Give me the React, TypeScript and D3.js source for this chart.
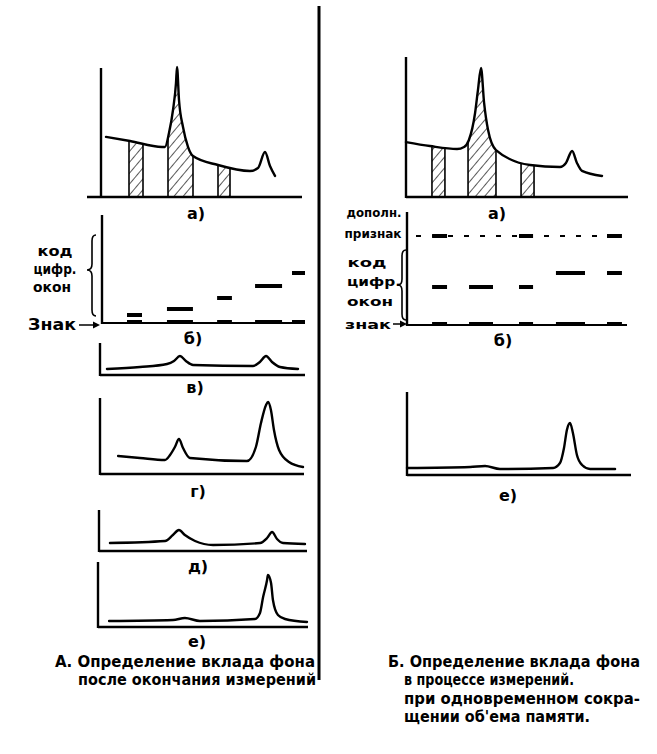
import * as d3 from 'd3';

type Pt = [number, number];

// spectra: [channel (0-100 of panel width), counts]
const specAL: Pt[] = [[2.5, 46.2], [14.5, 43.1], [30.5, 38.5], [32, 38.5], [34, 49.2], [36, 66.9], [37.5, 87.7], [38, 100], [39, 74.6], [41, 53.8], [43.5, 38.5], [46, 31.5], [58.5, 24.6], [74.5, 20], [78.5, 22.3], [82, 34.6], [84.5, 23.8], [87, 16.2]];
const bandsAL: Pt[] = [[14, 21], [33.5, 46], [58.5, 64.5]];

const specAR: Pt[] = [[0, 42.6], [10.9, 39.5], [23.2, 37.2], [26.4, 38.8], [28.6, 44.2], [31.4, 65.1], [32.7, 82.9], [34.1, 100], [35.5, 72.9], [37.3, 51.9], [40.9, 36.4], [56.4, 24.8], [70, 23.3], [72.7, 26.4], [75.5, 35.7], [77.7, 26.4], [80, 20.2], [89.1, 16.3]];
const bandsAR: Pt[] = [[11.8, 17.7], [28.2, 40.9], [52.3, 58.2]];

const specV: Pt[] = [[3.4, 6], [19.5, 8], [32.7, 11], [36.1, 14], [39, 19], [41.9, 14], [45.4, 10], [74.6, 9], [78, 13], [81, 19], [83.9, 13], [87.8, 8], [96.6, 6]];
const specG: Pt[] = [[8.9, 18], [19.7, 16], [32, 14], [34.5, 19], [36.9, 27], [38.9, 35], [40.9, 26], [44.3, 16], [72.4, 13], [76.8, 27], [79.3, 51], [81.8, 69], [82.8, 72], [84.2, 64], [85.7, 44], [88.2, 24], [93.1, 12], [100, 7]];
const specD: Pt[] = [[5.3, 8], [31.9, 10], [35.7, 16], [38.6, 21], [41.5, 16], [46.4, 10], [55.1, 6], [77.8, 8], [81.2, 13], [83.6, 19], [86, 12], [88.9, 8], [99.5, 7]];
const specE: Pt[] = [[5.3, 6], [35.9, 7], [41.6, 9], [48.8, 6], [75.1, 8], [77.5, 14], [79, 30], [80.9, 47], [81.3, 52], [82.8, 44], [83.7, 27], [86.1, 12], [89.5, 8], [100, 5]];
const specER: Pt[] = [[0, 7], [28.3, 8], [35, 9], [41.7, 6], [65.5, 7], [68.6, 12], [70.4, 27], [71.7, 45], [73.1, 52], [74.4, 42], [76.2, 20], [78.5, 10], [82.1, 6], [93.3, 6]];

// б) code panels: channel windows and code levels
const winStartL = [12.3, 32.0, 56.7, 75.4, 93.6];
const winEndL = [19.7, 44.8, 64.0, 88.7, 100];
const codeL = [8, 14, 25, 37, 50];

const winStartR = [11.4, 28.2, 50.9, 67.7, 90.9];
const winEndR = [18.2, 39.1, 57.3, 80.9, 97.7];
const codeR = [38, 38, 38, 52, 52];
const flagR = [1, 0, 1, 0, 1];
const flagLevel = 89;

const labelsL = ['код', 'цифр.', 'окон'];
const labelsR = ['код', 'цифр.', 'окон'];
const captionA = ['А. Определение вклада фона', 'после окончания измерений'];
const captionB = ['Б. Определение вклада фона', 'в процессе измерений.', 'при одновременном сокра-', 'щении об\'ема памяти.'];

const FONT = 'DejaVu Sans, sans-serif';

type Frame = {
  id: string; data: Pt[]; bands?: Pt[];
  x0: number; x1: number; base: number; yTop: number; yMax: number;
  axisTop: number; lineFrom: number; lineTo: number;
  label: string; lx: number; ly: number;
};

const frames: Frame[] = [
  { id: 'aL', data: specAL, bands: bandsAL, x0: 101, x1: 301, base: 197, yTop: 67, yMax: 100, axisTop: 68, lineFrom: 87, lineTo: 302, label: 'а)', lx: 196, ly: 219 },
  { id: 'aR', data: specAR, bands: bandsAR, x0: 406, x1: 626, base: 197, yTop: 68, yMax: 100, axisTop: 57, lineFrom: 406, lineTo: 628, label: 'а)', lx: 497, ly: 219 },
  { id: 'v', data: specV, x0: 100, x1: 305, base: 375, yTop: 343, yMax: 32, axisTop: 343, lineFrom: 100, lineTo: 305, label: 'в)', lx: 195, ly: 393 },
  { id: 'g', data: specG, x0: 100, x1: 303, base: 474, yTop: 398, yMax: 76, axisTop: 398, lineFrom: 100, lineTo: 304, label: 'г)', lx: 198, ly: 497 },
  { id: 'd', data: specD, x0: 99, x1: 306, base: 551, yTop: 510, yMax: 41, axisTop: 510, lineFrom: 99, lineTo: 307, label: 'д)', lx: 198, ly: 572 },
  { id: 'e', data: specE, x0: 98, x1: 307, base: 627, yTop: 562, yMax: 65, axisTop: 562, lineFrom: 98, lineTo: 308, label: 'е)', lx: 197, ly: 647 },
  { id: 'eR', data: specER, x0: 407, x1: 630, base: 475, yTop: 392, yMax: 83, axisTop: 392, lineFrom: 407, lineTo: 631, label: 'е)', lx: 508, ly: 501 },
];

function Spectrum({ f }: { f: Frame }) {
  const x = d3.scaleLinear().domain([0, 100]).range([f.x0, f.x1]);
  const y = d3.scaleLinear().domain([0, f.yMax]).range([f.base, f.yTop]);
  const line = d3.line<Pt>().x(d => x(d[0])).y(d => y(d[1])).curve(d3.curveMonotoneX);
  const area = d3.area<Pt>().x(d => x(d[0])).y0(f.base).y1(d => y(d[1])).curve(d3.curveMonotoneX);
  return (
    <g>
      {f.bands && (
        <>
          <clipPath id={`clip-${f.id}`}><path d={area(f.data) || ''} /></clipPath>
          <g clipPath={`url(#clip-${f.id})`}>
            {f.bands.map((b, i) => (
              <g key={i}>
                <rect x={x(b[0])} y={f.yTop} width={x(b[1]) - x(b[0])} height={f.base - f.yTop} fill="url(#hatch)" />
                <line x1={x(b[0])} x2={x(b[0])} y1={f.yTop - 10} y2={f.base} stroke="#000" strokeWidth={1.6} />
                <line x1={x(b[1])} x2={x(b[1])} y1={f.yTop - 10} y2={f.base} stroke="#000" strokeWidth={1.6} />
              </g>
            ))}
          </g>
        </>
      )}
      <line x1={x(0)} x2={x(0)} y1={f.axisTop} y2={f.base + 1} stroke="#000" strokeWidth={2.4} />
      <line x1={f.lineFrom} x2={f.lineTo} y1={f.base} y2={f.base} stroke="#000" strokeWidth={2.6} />
      <path d={line(f.data) || ''} fill="none" stroke="#000" strokeWidth={2.4} strokeLinejoin="round" strokeLinecap="round" />
      <text x={f.lx} y={f.ly} textAnchor="middle" fontFamily={FONT} fontWeight="bold" fontSize={16}>{f.label}</text>
    </g>
  );
}

function brace(xb: number, y1: number, y2: number, mid: number, w: number) {
  return `M${xb + 4},${y1} Q${xb},${y1} ${xb},${y1 + 6} L${xb},${mid - 6} Q${xb},${mid} ${xb - w},${mid} Q${xb},${mid} ${xb},${mid + 6} L${xb},${y2 - 6} Q${xb},${y2} ${xb + 4},${y2}`;
}

function CodeLeft() {
  const x = d3.scaleLinear().domain([0, 100]).range([102, 305]);
  const y = d3.scaleLinear().domain([0, 100]).range([323, 223]);
  return (
    <g>
      <line x1={102} x2={102} y1={215} y2={324} stroke="#000" strokeWidth={2.4} />
      <line x1={102} x2={305} y1={323} y2={323} stroke="#000" strokeWidth={2.2} />
      {winStartL.map((s, i) => (
        <g key={i}>
          <line x1={x(s)} x2={x(winEndL[i])} y1={y(codeL[i])} y2={y(codeL[i])} stroke="#000" strokeWidth={4} />
          <line x1={x(s)} x2={x(winEndL[i])} y1={y(1)} y2={y(1)} stroke="#000" strokeWidth={4} />
        </g>
      ))}
      <path d={brace(92, 235, 316, 270, 5)} fill="none" stroke="#000" strokeWidth={1.6} />
      {labelsL.map((t, i) => (
        <text key={t} x={[55, 55, 52][i]} y={[256, 274, 292][i]} textAnchor="middle" fontFamily={FONT} fontWeight="bold" fontSize={14} textLength={[35, 43, 38][i]} lengthAdjust="spacingAndGlyphs">{t}</text>
      ))}
      <text x={28} y={330} fontFamily={FONT} fontWeight="bold" fontSize={15} textLength={48} lengthAdjust="spacingAndGlyphs">Знак</text>
      <line x1={79} x2={96} y1={325} y2={325} stroke="#000" strokeWidth={1.5} />
      <path d="M100,325 L93,321.5 L93,328.5 Z" fill="#000" />
      <text x={193} y={344} textAnchor="middle" fontFamily={FONT} fontWeight="bold" fontSize={16}>б)</text>
    </g>
  );
}

function CodeRight() {
  const x = d3.scaleLinear().domain([0, 100]).range([407, 627]);
  const y = d3.scaleLinear().domain([0, 100]).range([325, 225]);
  return (
    <g>
      <line x1={407} x2={407} y1={212} y2={326} stroke="#000" strokeWidth={2.4} />
      <line x1={407} x2={627} y1={325} y2={325} stroke="#000" strokeWidth={2.2} />
      <line x1={416} x2={623} y1={y(flagLevel)} y2={y(flagLevel)} stroke="#000" strokeWidth={2} strokeDasharray="5,11" />
      {winStartR.map((s, i) => (
        <g key={i}>
          <line x1={x(s)} x2={x(winEndR[i])} y1={y(codeR[i])} y2={y(codeR[i])} stroke="#000" strokeWidth={4} />
          <line x1={x(s)} x2={x(winEndR[i])} y1={y(1)} y2={y(1)} stroke="#000" strokeWidth={4} />
          {flagR[i] ? <line x1={x(s)} x2={x(winEndR[i])} y1={y(flagLevel)} y2={y(flagLevel)} stroke="#000" strokeWidth={4} /> : null}
        </g>
      ))}
      <path d={brace(402, 250, 320, 285, 4)} fill="none" stroke="#000" strokeWidth={1.6} />
      <text x={374} y={217} textAnchor="middle" fontFamily={FONT} fontWeight="bold" fontSize={13} textLength={55} lengthAdjust="spacingAndGlyphs">дополн.</text>
      <text x={373} y={238} textAnchor="middle" fontFamily={FONT} fontWeight="bold" fontSize={13} textLength={57} lengthAdjust="spacingAndGlyphs">признак</text>
      {labelsR.map((t, i) => (
        <text key={t} x={[367, 374, 370][i]} y={[267, 286, 306][i]} textAnchor="middle" fontFamily={FONT} fontWeight="bold" fontSize={13} textLength={[39, 54, 46][i]} lengthAdjust="spacingAndGlyphs">{t}</text>
      ))}
      <text x={345} y={329} fontFamily={FONT} fontWeight="bold" fontSize={13} textLength={46} lengthAdjust="spacingAndGlyphs">знак</text>
      <line x1={393} x2={402} y1={324} y2={324} stroke="#000" strokeWidth={1.5} />
      <path d="M407,324 L400,320.5 L400,327.5 Z" fill="#000" />
      <text x={503} y={346} textAnchor="middle" fontFamily={FONT} fontWeight="bold" fontSize={16}>б)</text>
    </g>
  );
}

export default function App() {
  return (
    <svg width={657} height={754} viewBox="0 0 657 754" style={{ display: 'block', position: 'absolute', left: 0, top: 0, background: '#fff' }}>
      <defs>
        <pattern id="hatch" width={7} height={7} patternUnits="userSpaceOnUse" patternTransform="rotate(40)">
          <line x1={0} y1={0} x2={0} y2={7} stroke="#000" strokeWidth={1.3} />
        </pattern>
      </defs>
      <rect width={657} height={754} fill="#fff" />
      <line x1={319} x2={319} y1={6} y2={680} stroke="#000" strokeWidth={3} />
      {frames.map(f => <Spectrum key={f.id} f={f} />)}
      <CodeLeft />
      <CodeRight />
      {captionA.map((t, i) => (
        <text key={t} x={[55, 78][i]} y={[667, 685][i]} fontFamily={FONT} fontWeight="bold" fontSize={15} textLength={[260, 238][i]} lengthAdjust="spacingAndGlyphs">{t}</text>
      ))}
      {captionB.map((t, i) => (
        <text key={t} x={[388, 404, 404, 404][i]} y={[667, 685, 704, 722][i]} fontFamily={FONT} fontWeight="bold" fontSize={15} textLength={[252, 170, 236, 186][i]} lengthAdjust="spacingAndGlyphs">{t}</text>
      ))}
    </svg>
  );
}
